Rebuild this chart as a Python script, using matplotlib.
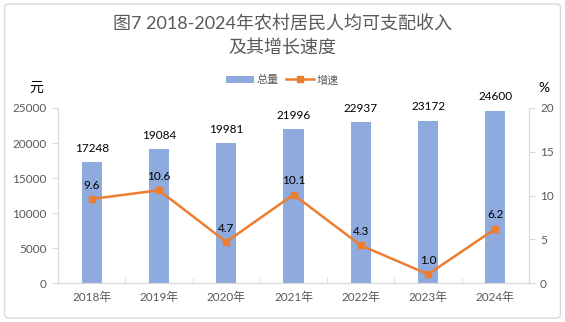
import numpy as np
import matplotlib.pyplot as plt
from matplotlib.patches import FancyBboxPatch

plt.rcParams['font.family'] = ['Lato', 'Noto Sans CJK SC', 'DejaVu Sans']

years = ['2018年', '2019年', '2020年', '2021年', '2022年', '2023年', '2024年']
income = [17248, 19084, 19981, 21996, 22937, 23172, 24600]
growth = [9.6, 10.6, 4.7, 10.1, 4.3, 1.0, 6.2]

bar_color = '#8FAADC'
line_color = '#ED7D31'
grey = '#595959'
spine_grey = '#D9D9D9'

fig = plt.figure(figsize=(5.65, 3.22), dpi=100)

# rounded frame round the whole chart
frame = FancyBboxPatch((0.008, 0.012), 0.984, 0.976, boxstyle='round,pad=0,rounding_size=0.01',
                       transform=fig.transFigure, facecolor='none', edgecolor='#D9D9D9',
                       linewidth=1.0, zorder=-1)
fig.patches.append(frame)

ax = fig.add_axes([0.1027, 0.1211, 0.8336, 0.5435])
ax2 = ax.twinx()
ax.set_zorder(ax2.get_zorder() - 1)
ax.patch.set_visible(False)
ax2.patch.set_visible(False)

x = np.arange(len(years))
ax.bar(x, income, width=0.3, color=bar_color, label='总量', zorder=2)
for xi, v in zip(x, income):
    ax.annotate(str(v), (xi, v), xytext=(0, 6), textcoords='offset points',
                ha='center', va='bottom', fontsize=8.5, color='black')

ax2.plot(x, growth, '-s', color=line_color, linewidth=1.8, markersize=5, label='增速')
for xi, v in zip(x, growth):
    ax2.annotate('%.1f' % v, (xi, v), xytext=(0, 6), textcoords='offset points',
                 ha='center', va='bottom', fontsize=8.5, color='black')

ax.set_xlim(-0.5, len(years) - 0.5)
ax.set_ylim(0, 25000)
ax.set_yticks(np.arange(0, 25001, 5000))
ax2.set_ylim(0, 20)
ax2.set_yticks(np.arange(0, 21, 5))

ax.set_xticks(x)
ax.set_xticklabels(years)
ax.set_xticks(np.arange(0.5, len(years) - 1, 1), minor=True)
ax.tick_params(axis='x', which='major', length=0, pad=6, labelsize=8.5, labelcolor=grey)
ax.tick_params(axis='x', which='minor', direction='in', length=4, color=spine_grey)
ax.tick_params(axis='y', length=4, color=spine_grey, labelsize=8.5, labelcolor=grey, pad=4)
ax2.tick_params(axis='y', length=4, color=spine_grey, labelsize=8.5, labelcolor=grey, pad=4)

for a in (ax, ax2):
    a.spines['top'].set_visible(False)
    for s in ('left', 'right', 'bottom'):
        a.spines[s].set_color(spine_grey)

fig.text(0.5, 0.925, '图7 2018-2024年农村居民人均可支配收入', ha='center', va='center',
         fontsize=13, color=grey)
fig.text(0.5, 0.852, '及其增长速度', ha='center', va='center', fontsize=13, color=grey)
fig.text(0.064, 0.728, '元', ha='center', va='center', fontsize=10, color='black')
fig.text(0.962, 0.728, '%', ha='center', va='center', fontsize=10, color='black')

h1, l1 = ax.get_legend_handles_labels()
h2, l2 = ax2.get_legend_handles_labels()
fig.legend(h1 + h2, l1 + l2, loc='center', bbox_to_anchor=(0.5, 0.752), ncol=2,
           frameon=False, fontsize=8, labelcolor=grey, handlelength=2.5,
           columnspacing=0.6, handletextpad=0.3)

fig.savefig('out.png', dpi=100)
